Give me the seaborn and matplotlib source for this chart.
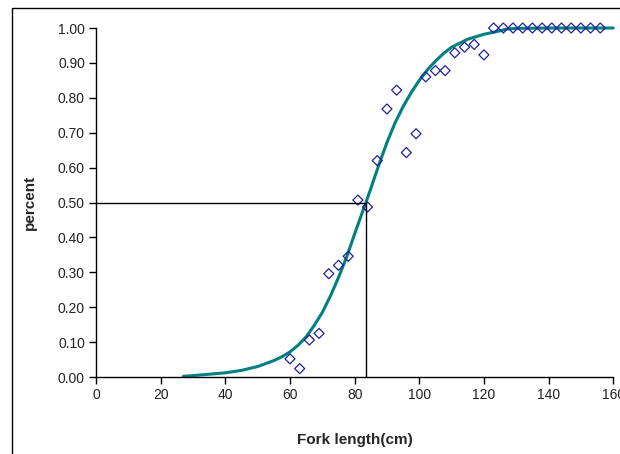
import matplotlib
matplotlib.use("Agg")
import matplotlib.pyplot as plt
import seaborn as sns
from matplotlib.patches import Rectangle
from matplotlib.ticker import FormatStrFormatter

# Observed proportion mature by fork length
obs_length = [60, 63, 66, 69, 72, 75, 78, 81, 84, 87, 90, 93, 96, 99, 102,
              105, 108, 111, 114, 117, 120, 123, 126, 129, 132, 135, 138,
              141, 144, 147, 150, 153, 156]
obs_pct = [0.052, 0.024, 0.106, 0.125, 0.296, 0.320, 0.346, 0.507, 0.487,
           0.620, 0.768, 0.822, 0.643, 0.697, 0.860, 0.878, 0.878, 0.929,
           0.945, 0.953, 0.923, 1.0, 1.0, 1.0, 1.0, 1.0, 1.0, 1.0, 1.0,
           1.0, 1.0, 1.0, 1.0]

# Fitted curve
fit_length = [27, 30, 35, 40, 45, 50, 55, 57.5, 60, 62.5, 65, 67.5, 70,
              72.5, 75, 77.5, 80, 82.5, 83.5, 85, 87.5, 90, 92.5, 95, 97.5,
              100, 102.5, 105, 107.5, 110, 115, 120, 125, 127, 130, 140, 160]
fit_pct = [0.002, 0.004, 0.008, 0.012, 0.019, 0.030, 0.047, 0.058, 0.072,
           0.091, 0.115, 0.148, 0.185, 0.232, 0.285, 0.343, 0.410, 0.475,
           0.500, 0.540, 0.608, 0.672, 0.728, 0.775, 0.815, 0.850, 0.880,
           0.905, 0.927, 0.945, 0.968, 0.982, 0.992, 0.997, 0.999, 1.0, 1.0]

# 50% maturity
l50 = 83.5
p50 = 0.5

sns.set_style("white")
plt.rcParams['font.family'] = ['Liberation Sans', 'DejaVu Sans']

fig = plt.figure(figsize=(6.2, 4.54), dpi=100)
ax = fig.add_axes([0.155, 0.1696, 0.834, 0.7687])

# chart area border (Excel style)
fig.patches.append(Rectangle((12 / 620, -0.1), 2.0, 1 - 8 / 454 + 0.1,
                             transform=fig.transFigure, fill=False,
                             ec='black', lw=1))

sns.lineplot(x=fit_length, y=fit_pct, ax=ax, color='#008080', lw=2.2,
             zorder=2, clip_on=False)
sns.scatterplot(x=obs_length, y=obs_pct, ax=ax, marker='D', s=26,
                facecolor='none', edgecolor='#2020a0', linewidth=0.9,
                zorder=3, clip_on=False)

ax.plot([0, l50], [p50, p50], color='black', lw=1, zorder=4)
ax.plot([l50, l50], [0, p50], color='black', lw=1, zorder=4)

ax.set_xlim(0, 160)
ax.set_ylim(0, 1.0)
ax.set_xticks(range(0, 161, 20))
ax.set_yticks([i / 10 for i in range(11)])
ax.yaxis.set_major_formatter(FormatStrFormatter('%.2f'))

for side in ['top', 'right']:
    ax.spines[side].set_visible(False)
for side in ['left', 'bottom']:
    ax.spines[side].set_color('black')
    ax.spines[side].set_linewidth(1)

ax.tick_params(axis='both', direction='out', length=5, width=1,
               color='black', labelsize=10, labelcolor='#222222', pad=3,
               left=True, bottom=True)

ax.set_xlabel('Fork length(cm)', fontsize=11, fontweight='bold', labelpad=22)
ax.set_ylabel('percent', fontsize=11, fontweight='bold', labelpad=15)

fig.savefig('out.png', dpi=100)
